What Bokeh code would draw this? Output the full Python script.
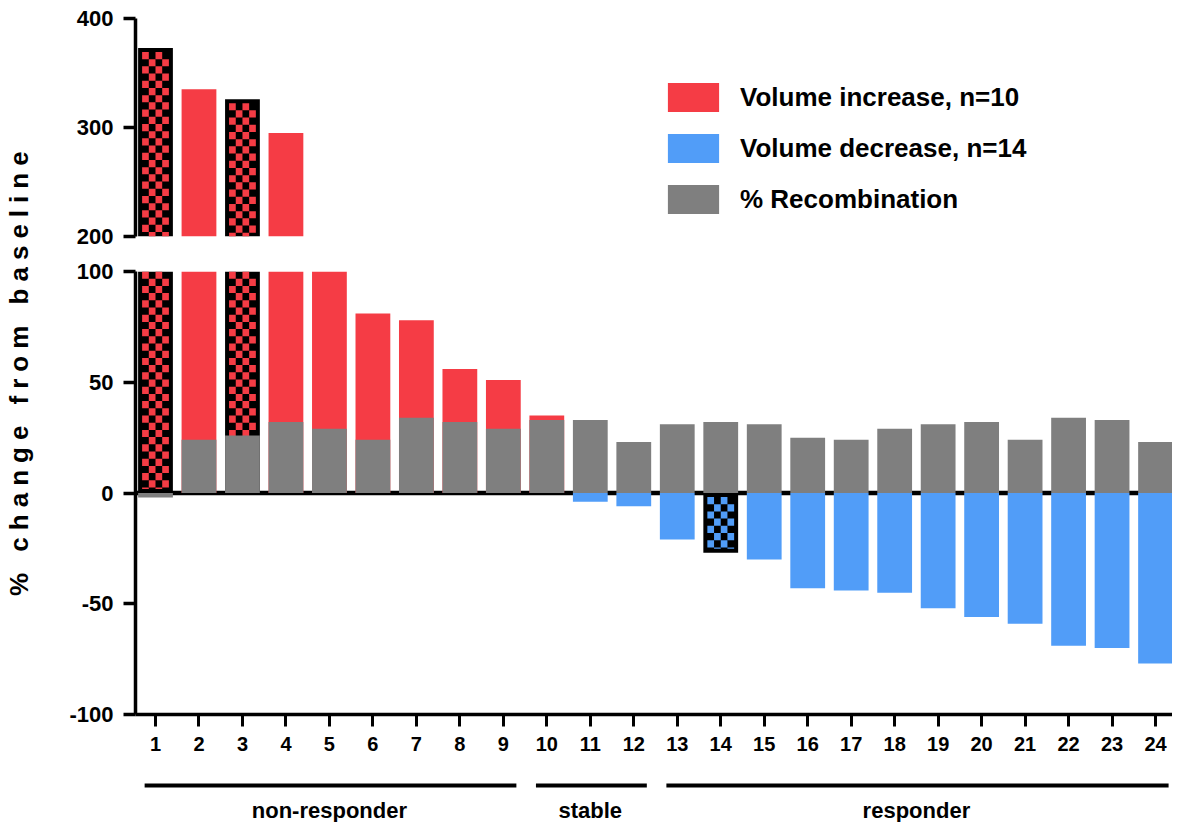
import numpy as np
from bokeh.plotting import figure
from bokeh.models import (Range1d, FixedTicker, Span, Legend, LegendItem, Div,
                          LinearAxis, ColumnDataSource)
from bokeh.layouts import row, column
from bokeh.embed import file_html
from bokeh.resources import INLINE
from bokeh.core.properties import value

# ---------------- data ----------------
patients = list(range(1, 25))
volume_change = [373, 335, 326, 295, 100, 81, 78, 56, 51, 35,
                 -4, -6, -21, -27, -30, -43, -44, -45, -52, -56, -59, -69, -70, -77]
recombination = [-2, 24, 26, 32, 29, 24, 34, 32, 29, 33,
                 33, 23, 31, 32, 31, 25, 24, 29, 31, 32, 24, 34, 33, 23]
checkered = [1, 3, 14]
groups = ["non-responder"] * 9 + ["stable"] * 3 + ["responder"] * 12
group_names = ["non-responder", "stable", "responder"]
legend_labels = ["Volume increase, n=10", "Volume decrease, n=14", "% Recombination"]
y_label = "% change from baseline"
top_ticks = [200, 300, 400]
bottom_ticks = [-100, -50, 0, 50, 100]

# ---------------- style ----------------
RED = "#F53C45"
BLUE = "#519DF8"
GRAY = "#7F7F7F"
FONT = "Liberation Sans"
BAR_W = 0.8
X_START, X_END = 0.54, 24.39
FIG_W = 1122
LEFT = 85
FRAME_W = FIG_W - LEFT
TOP_FRAME_H = 218
BOT_FRAME_H = 443
TOP_RANGE = (200, 400)
BOT_RANGE = (-100, 100)

x_range = Range1d(X_START, X_END)


def make_fig(height, y_rng, top, bottom):
    p = figure(width=FIG_W, height=height, x_range=x_range,
               y_range=Range1d(*y_rng), title=None,
               output_backend="svg", toolbar_location=None,
               min_border_left=LEFT, min_border_right=0,
               min_border_top=top, min_border_bottom=bottom,
               x_axis_location=None, y_axis_location=None)
    p.outline_line_color = None
    p.grid.visible = False
    p.background_fill_color = "white"
    return p


def style_axis(ax, size):
    ax.axis_line_width = 3.5
    ax.axis_line_color = "black"
    ax.major_tick_line_width = 3.5
    ax.major_tick_out = 12
    ax.major_tick_in = 0
    ax.minor_tick_out = 0
    ax.minor_tick_in = 0
    ax.major_label_text_font = FONT
    ax.major_label_text_font_style = "bold"
    ax.major_label_text_font_size = size
    ax.major_label_text_color = "black"


def bar_sources(rng):
    """Split bars into increase / decrease / checkered / recombination,
    keeping only those that reach into the panel's range."""
    inc = dict(x=[], top=[])
    dec = dict(x=[], top=[])
    chk = dict(x=[], top=[])
    gray = dict(x=[], top=[])
    dec_all = dict(x=[], top=[])
    gray_all = dict(x=patients, top=recombination)
    for x, v, g in zip(patients, volume_change, recombination):
        if v < 0 and x not in checkered:
            dec_all["x"].append(x)
            dec_all["top"].append(v)
        visible = (v > rng[0]) if v > 0 else (rng[0] < 0)
        if visible:
            if x in checkered:
                d = chk
            else:
                d = inc if v > 0 else dec
            d["x"].append(x)
            d["top"].append(v)
        if rng[0] < 0 or g > rng[0]:
            gray["x"].append(x)
            gray["top"].append(g)
    return inc, dec, chk, gray, dec_all, gray_all


def checker_cells(rng, frame_h):
    px_x = FRAME_W / (X_END - X_START)
    px_y = frame_h / (rng[1] - rng[0])
    bx, by = 4 / px_x, 4 / px_y
    ch = 7.2 / px_y
    cells = dict(left=[], right=[], top=[], bottom=[], color=[])
    for x, v in zip(patients, volume_change):
        if x not in checkered:
            continue
        col = RED if v > 0 else BLUE
        left = x - BAR_W / 2 + bx
        right = x + BAR_W / 2 - bx
        cw = (right - left) / 4
        if v > 0:
            t, b = min(v - by, rng[1]), max(by, rng[0])
        else:
            t, b = min(-by, rng[1]), max(v + by, rng[0])
        if t <= b:
            continue
        k = 0
        while t - k * ch > b:
            yt = t - k * ch
            yb = max(t - (k + 1) * ch, b)
            for c in range(4):
                if (c + k) % 2 == 0:
                    cells["left"].append(left + c * cw)
                    cells["right"].append(left + (c + 1) * cw)
                    cells["top"].append(yt)
                    cells["bottom"].append(yb)
                    cells["color"].append(col)
            k += 1
    return cells


def draw_bars(p, rng, frame_h, legend_only=False):
    inc, dec, chk, gray, dec_all, gray_all = bar_sources(rng)
    r_inc = p.vbar(x="x", top="top", bottom=0, width=BAR_W, source=ColumnDataSource(inc),
                   fill_color=RED, line_color=None)
    if legend_only:
        # decrease / recombination bars lie outside this panel: zero-width, legend only
        r_dec = p.vbar(x="x", top="top", bottom=0, width=0, source=ColumnDataSource(dec_all),
                       fill_color=BLUE, line_color=None)
    else:
        r_dec = p.vbar(x="x", top="top", bottom=0, width=BAR_W, source=ColumnDataSource(dec),
                       fill_color=BLUE, line_color=None)
    p.vbar(x="x", top="top", bottom=0, width=BAR_W, source=ColumnDataSource(chk),
           fill_color="black", line_color=None)
    p.quad(left="left", right="right", top="top", bottom="bottom", color="color",
           line_color=None, source=ColumnDataSource(checker_cells(rng, frame_h)))
    if legend_only:
        r_gray = p.vbar(x="x", top="top", bottom=0, width=0, source=ColumnDataSource(gray_all),
                        fill_color=GRAY, line_color=None)
    else:
        r_gray = p.vbar(x="x", top="top", bottom=0, width=BAR_W, source=ColumnDataSource(gray),
                        fill_color=GRAY, line_color=None)
    return r_inc, r_dec, r_gray


# ---------------- top panel (200-400) ----------------
p_top = make_fig(253, TOP_RANGE, 18, 17)
r_inc, r_dec, r_gray = draw_bars(p_top, TOP_RANGE, TOP_FRAME_H, legend_only=True)
ax_top = LinearAxis(ticker=FixedTicker(ticks=top_ticks))
style_axis(ax_top, "22px")
ax_top.major_label_standoff = 10
p_top.add_layout(ax_top, "left")

legend = Legend(items=[LegendItem(label=value(legend_labels[0]), renderers=[r_inc]),
                       LegendItem(label=value(legend_labels[1]), renderers=[r_dec]),
                       LegendItem(label=value(legend_labels[2]), renderers=[r_gray])],
                location=(526, 19), orientation="vertical")
legend.glyph_width = 64
legend.glyph_height = 36
legend.label_height = 36
legend.label_standoff = 15
legend.spacing = 15
legend.padding = 0
legend.margin = 0
legend.border_line_color = None
legend.background_fill_alpha = 0
legend.label_text_font = FONT
legend.label_text_font_style = "bold"
legend.label_text_font_size = "26px"
legend.label_text_color = "black"
p_top.add_layout(legend)

# ---------------- bottom panel (-100-100) ----------------
p_bot = make_fig(511, BOT_RANGE, 18, 50)
p_bot.add_layout(Span(location=0, dimension="width", line_color="black",
                      line_width=4.5, level="underlay"))
draw_bars(p_bot, BOT_RANGE, BOT_FRAME_H)
ax_left = LinearAxis(ticker=FixedTicker(ticks=bottom_ticks))
style_axis(ax_left, "22px")
ax_left.major_label_standoff = 10
ax_left.major_label_overrides = {t: str(t) for t in bottom_ticks}
p_bot.add_layout(ax_left, "left")
ax_x = LinearAxis(ticker=FixedTicker(ticks=patients))
style_axis(ax_x, "20px")
ax_x.major_tick_line_width = 3
ax_x.major_label_standoff = 10
p_bot.add_layout(ax_x, "below")

# ---------------- group annotations ----------------
p_grp = make_fig(58, (0, 58), 0, 0)
g_first = [patients[groups.index(g)] for g in group_names]
g_last = [patients[len(groups) - 1 - groups[::-1].index(g)] for g in group_names]
p_grp.segment(x0=[f - 0.25 for f in g_first], x1=[l + 0.3 for l in g_last],
              y0=37, y1=37, line_color="black", line_width=4)
p_grp.text(x=[(f + l) / 2 for f, l in zip(g_first, g_last)], y=12, text=group_names,
           text_align="center", text_baseline="middle", text_font=value(FONT),
           text_font_style="bold", text_font_size="22px", text_color="black")

# ---------------- y label ----------------
ylab = Div(text=('<div style="writing-mode:vertical-rl; transform:rotate(180deg); '
                 'height:696px; width:40px; margin-top:17px; text-align:center; '
                 "font-family:'Liberation Sans',Arial,sans-serif; font-weight:bold; "
                 'font-size:26px; letter-spacing:7px; white-space:nowrap; '
                 'line-height:28px; color:black;">' + y_label + '</div>'),
           width=40, height=822)

layout = row(ylab, column(p_top, p_bot, p_grp))

open("out.html", "w").write(file_html(layout, INLINE, "chart"))
